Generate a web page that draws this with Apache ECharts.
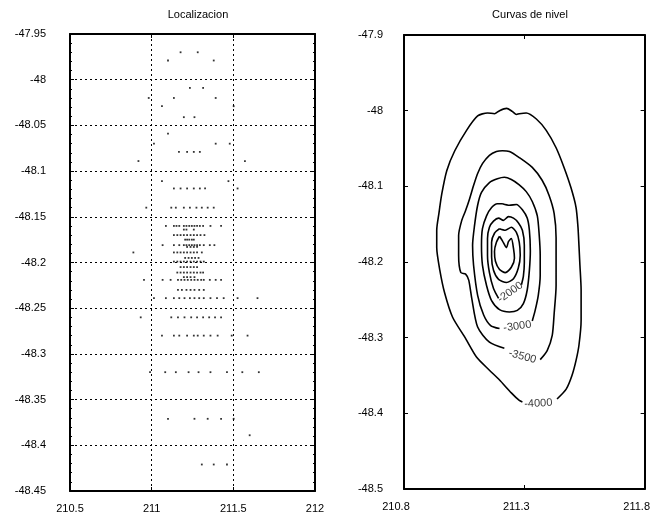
<!DOCTYPE html>
<html><head><meta charset="utf-8">
<script src="https://cdn.jsdelivr.net/npm/echarts@6/dist/echarts.min.js"></script>
<style>html,body{margin:0;padding:0;background:#fff}#c{width:653px;height:517px}</style>
</head><body><div id="c"></div>
<script>
// ---------- Left panel: event locations (rows of equal latitude) ----------
const rowLat = [-47.970,-47.979,-48.009,-48.020,-48.029,-48.041,-48.059,-48.070,-48.079,-48.089,
  -48.111,-48.119,-48.140,-48.160,-48.164,-48.170,-48.175,-48.181,-48.183,-48.189,
  -48.195,-48.199,-48.205,-48.211,-48.216,-48.219,-48.230,-48.239,-48.260,-48.280,
  -48.320,-48.371,-48.389,-48.421];
const rowLon = [
  [211.177,211.282],
  [211.100,211.380],
  [211.234,211.315],
  [210.982,211.136,211.392],
  [211.063,211.502],
  [211.197,211.262],
  [211.100],
  [211.014,211.392,211.478],
  [211.167,211.217,211.258,211.295],
  [210.919,211.571],
  [211.063,211.470],
  [211.136,211.177,211.217,211.258,211.295,211.327,211.526],
  [210.967,211.120,211.148,211.197,211.234,211.274,211.307,211.343,211.380],
  [211.087,211.136,211.152,211.169,211.197,211.213,211.230,211.246,211.262,211.278,211.295,211.315,211.360,211.425],
  [211.197,211.213,211.258],
  [211.136,211.157,211.177,211.197,211.217,211.238,211.258,211.278,211.299,211.323],
  [211.205,211.217,211.230,211.246,211.258],
  [211.067,211.136,211.169,211.197,211.213,211.230,211.246,211.262,211.278,211.295,211.319,211.356,211.384],
  [211.217,211.238,211.258,211.278],
  [210.888,211.136,211.157,211.177,211.197,211.217,211.238,211.258,211.278,211.307],
  [211.205,211.226,211.246,211.266,211.287],
  [211.136,211.157,211.177,211.197,211.217,211.238,211.258,211.278,211.299,211.319],
  [211.177,211.197,211.217,211.238,211.258,211.278],
  [211.157,211.177,211.197,211.217,211.238,211.258,211.278,211.299,211.315],
  [211.197,211.217,211.238,211.262],
  [210.953,211.067,211.116,211.161,211.181,211.201,211.221,211.242,211.262,211.282,211.303,211.319,211.356,211.392,211.425],
  [211.161,211.185,211.213,211.238,211.262,211.291,211.319],
  [211.014,211.087,211.136,211.169,211.201,211.234,211.262,211.291,211.319,211.360,211.400,211.441,211.526,211.648],
  [210.933,211.120,211.161,211.201,211.242,211.278,211.315,211.352,211.388,211.425],
  [211.063,211.136,211.169,211.217,211.258,211.282,211.319,211.360,211.404,211.490,211.587],
  [210.990,211.083,211.148,211.226,211.287,211.360,211.461,211.555,211.656],
  [211.100,211.262,211.343,211.425,211.502],
  [211.600],
  [211.307,211.380,211.461]
];

// ---------- Right panel: contour lines [lon, lat] ----------
const c4000 = [[211.292,-48.385],[211.279,-48.383],[211.246,-48.373],[211.197,-48.356],[211.155,-48.343],
  [211.102,-48.326],[211.052,-48.299],[211.002,-48.273],[210.969,-48.241],[210.949,-48.211],
  [210.936,-48.181],[210.936,-48.158],[210.945,-48.136],[210.957,-48.110],[210.978,-48.079],
  [211.011,-48.053],[211.060,-48.026],[211.106,-48.007],[211.147,-48.003],[211.176,-48.004],
  [211.197,-48.000],[211.226,-47.997],[211.250,-48.001],[211.267,-48.005],[211.279,-48.004],
  [211.308,-48.003],[211.350,-48.011],[211.391,-48.026],[211.432,-48.049],[211.465,-48.075],
  [211.494,-48.102],[211.515,-48.128],[211.523,-48.154],[211.527,-48.178],[211.531,-48.204],
  [211.536,-48.237],[211.536,-48.277],[211.527,-48.310],[211.515,-48.330],[211.498,-48.350],
  [211.474,-48.368],[211.436,-48.381]];
const c3500 = [[211.217,-48.314],[211.155,-48.306],[211.106,-48.286],[211.081,-48.247],[211.069,-48.224],
  [211.056,-48.216],[211.036,-48.214],[211.027,-48.191],[211.027,-48.165],[211.040,-48.145],
  [211.056,-48.132],[211.073,-48.116],[211.089,-48.099],[211.106,-48.083],[211.126,-48.070],
  [211.155,-48.059],[211.184,-48.054],[211.209,-48.053],[211.238,-48.054],[211.279,-48.062],
  [211.333,-48.075],[211.374,-48.092],[211.403,-48.112],[211.424,-48.136],[211.432,-48.168],
  [211.432,-48.198],[211.432,-48.231],[211.424,-48.268],[211.416,-48.297],[211.395,-48.317],
  [211.366,-48.329]];
const c3000 = [[211.197,-48.288],[211.160,-48.284],[211.131,-48.270],[211.106,-48.244],[211.089,-48.204],
  [211.085,-48.178],[211.093,-48.152],[211.106,-48.125],[211.122,-48.108],[211.155,-48.095],
  [211.188,-48.090],[211.217,-48.088],[211.246,-48.091],[211.279,-48.098],[211.308,-48.107],
  [211.333,-48.120],[211.354,-48.139],[211.362,-48.165],[211.366,-48.191],[211.366,-48.218],
  [211.358,-48.244],[211.345,-48.264],[211.333,-48.278]];
const c2500 = [[211.209,-48.123],[211.238,-48.125],[211.267,-48.124],[211.292,-48.131],[211.312,-48.142],
  [211.321,-48.158],[211.325,-48.185],[211.321,-48.211],[211.312,-48.237],[211.296,-48.255],
  [211.271,-48.264],[211.238,-48.266],[211.197,-48.263],[211.164,-48.251],[211.143,-48.231],
  [211.126,-48.204],[211.122,-48.178],[211.126,-48.156],[211.143,-48.139],[211.164,-48.128],
  [211.188,-48.123],[211.209,-48.123]];
const c2000 = [[211.193,-48.248],[211.172,-48.235],[211.155,-48.214],[211.147,-48.191],[211.147,-48.169],
  [211.155,-48.154],[211.172,-48.146],[211.193,-48.142],[211.213,-48.145],[211.234,-48.140],
  [211.255,-48.142],[211.275,-48.148],[211.292,-48.158],[211.300,-48.178],[211.300,-48.201],
  [211.296,-48.219],[211.288,-48.230]];
const c1500 = [[211.197,-48.156],[211.221,-48.158],[211.246,-48.154],[211.267,-48.161],[211.279,-48.174],
  [211.283,-48.191],[211.275,-48.208],[211.255,-48.222],[211.226,-48.227],[211.193,-48.223],
  [211.172,-48.211],[211.164,-48.193],[211.164,-48.174],[211.176,-48.162],[211.197,-48.156]];
const c1000 = [[211.197,-48.166],[211.209,-48.172],[211.226,-48.181],[211.234,-48.173],[211.246,-48.169],
  [211.255,-48.182],[211.259,-48.195],[211.246,-48.207],[211.221,-48.214],[211.197,-48.210],
  [211.180,-48.199],[211.176,-48.186],[211.184,-48.174],[211.197,-48.166]];
const contours = [c4000, c3500, c3000, c2500, c2000, c1500, c1000];

const labelText = ['-4000', '-3500', '-3000', '-2000'];
const labelLon  = [211.358, 211.292, 211.271, 211.242];
const labelLat  = [-48.387, -48.325, -48.285, -48.240];
const labelAngle = [3, -15, 8, 35];

// ---------- Axis ticks ----------
const leftX = {min: 210.5, max: 212, step: 0.5};
const leftY = {min: -48.45, max: -47.95, step: 0.05};
const rightX = {min: 210.8, max: 211.8, step: 0.5};
const rightY = {min: -48.5, max: -47.9, step: 0.1};

const FONT = 'Liberation Sans, Arial, sans-serif';
const black = '#000';

const locData = [];
rowLat.forEach((lat, i) => rowLon[i].forEach(lon => locData.push([lon, lat])));

function axis(kind, grid, r, pos, opts) {
  opts = opts || {};
  return Object.assign({
    type: 'value', gridIndex: grid, position: pos,
    min: r.min, max: r.max, interval: r.step,
    axisLine: {show: true, onZero: false, lineStyle: {color: black, width: 2}},
    axisTick: {show: true, inside: true, length: 4, lineStyle: {color: black, width: 1}},
    axisLabel: {show: false},
    splitLine: {show: false}
  }, opts);
}
const labelStyle = {color: black, fontSize: 11, fontFamily: FONT};
const dotted = {show: true, lineStyle: {color: black, width: 1, type: [2, 3]}};
const minor = {show: true, splitNumber: 5, length: 2, lineStyle: {color: black, width: 1}};

const option = {
  animation: false,
  backgroundColor: '#fff',
  title: [
    {text: 'Localizacion', left: 193, top: 4, textAlign: 'center',
     textStyle: {fontSize: 11, fontWeight: 'normal', color: black, fontFamily: FONT}},
    {text: 'Curvas de nivel', left: 525, top: 4, textAlign: 'center',
     textStyle: {fontSize: 11, fontWeight: 'normal', color: black, fontFamily: FONT}}
  ],
  grid: [
    {left: 70, right: 338, top: 34, bottom: 26},
    {left: 404, right: 7, top: 35, bottom: 28}
  ],
  xAxis: [
    axis('x', 0, leftX, 'bottom', {axisLabel: Object.assign({show: true, margin: 12}, labelStyle), splitLine: dotted}),
    axis('x', 0, leftX, 'top'),
    axis('x', 1, rightX, 'bottom', {axisLabel: Object.assign({show: true, margin: 12, padding: [0, 16, 0, 0]}, labelStyle)}),
    axis('x', 1, rightX, 'top')
  ],
  yAxis: [
    axis('y', 0, leftY, 'left', {axisLabel: Object.assign({show: true, margin: 24}, labelStyle), splitLine: dotted, minorTick: minor}),
    axis('y', 0, leftY, 'right', {minorTick: minor}),
    axis('y', 1, rightY, 'left', {axisLabel: Object.assign({show: true, margin: 21}, labelStyle)}),
    axis('y', 1, rightY, 'right')
  ],
  series: [
    {type: 'scatter', xAxisIndex: 0, yAxisIndex: 0, data: locData,
     symbol: 'rect', symbolSize: 1.8, itemStyle: {color: black}, silent: true}
  ].concat(contours.map(c => ({
    type: 'line', xAxisIndex: 2, yAxisIndex: 2, data: c, showSymbol: false, symbol: 'none',
    smooth: 0.25, lineStyle: {color: black, width: 1.6}, silent: true
  }))).concat([{
    type: 'scatter', xAxisIndex: 2, yAxisIndex: 2, symbolSize: 0, silent: true,
    data: labelText.map((t, i) => ({value: [labelLon[i], labelLat[i]], name: t,
      label: {rotate: labelAngle[i]}})),
    label: {show: true, position: 'inside', formatter: p => p.name,
      color: black, fontSize: 11, fontFamily: FONT}
  }])
};
const chart = echarts.init(document.getElementById('c'), null, {renderer: 'canvas'});
chart.setOption(option);
</script>
</body></html>
